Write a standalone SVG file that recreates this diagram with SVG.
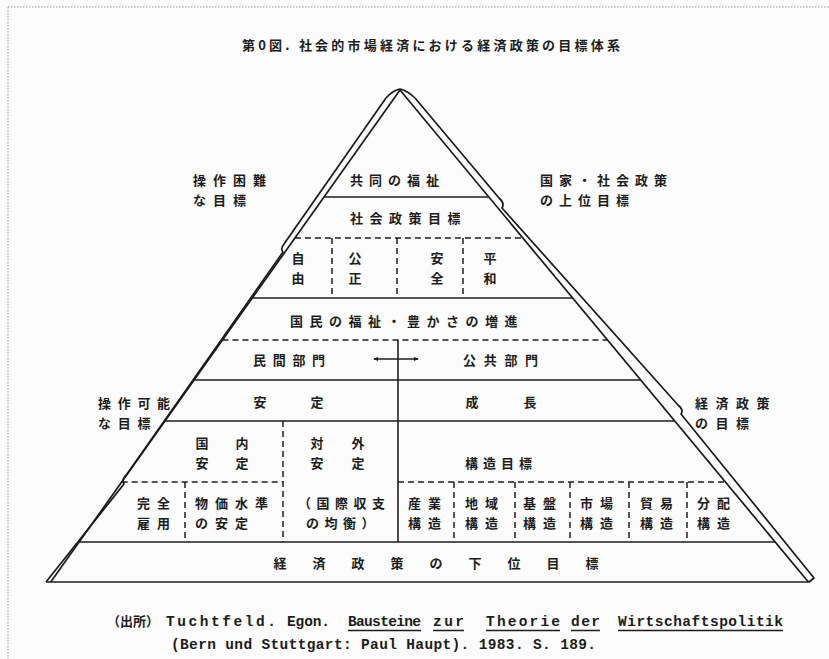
<svg xmlns="http://www.w3.org/2000/svg" width="829" height="659" viewBox="0 0 829 659">
<style>
.j{font-family:"Noto Sans CJK JP","Noto Sans CJK SC",sans-serif;font-weight:bold;font-size:13px;fill:#1c1c1c}
.c{text-anchor:middle}
.s{stroke:#1e1e1e;stroke-width:1.6;fill:none}
.d{stroke:#1e1e1e;stroke-width:1.5;fill:none;stroke-dasharray:6 4}
.e{stroke:#1a1a1a;stroke-width:1.7;fill:none;stroke-linejoin:round}
.m{font-family:"Liberation Mono",monospace;font-size:14.5px;font-weight:bold;fill:#1c1c1c}
</style>
<defs>
<marker id="ah" viewBox="0 0 6 6" refX="5" refY="3" markerWidth="5" markerHeight="5" orient="auto-start-reverse" markerUnits="userSpaceOnUse">
<path d="M0,0.5 L6,3 L0,5.5 Z" fill="#1e1e1e"/>
</marker>
</defs>
<rect x="0" y="0" width="829" height="659" fill="#fcfcfc"/>
<path d="M8,7 H829 M8,7 V659" stroke="#9a9a9a" stroke-width="1" stroke-dasharray="1.5 1.5" fill="none"/>

<text class="j" x="242" y="50" font-size="15.5" textLength="378" lengthAdjust="spacing">第0図. 社会的市場経済における経済政策の目標体系</text>

<g id="pyramid-outline">
<path class="e" d="M386,98 Q392,91 400,89 Q408,91 415,98"/>
<path class="e" d="M386,98 L284,244 Q280,249 283,252 L217,346 L127,474 Q121,480 124,484 L46,582"/>
<path class="e" d="M400,90 L50.7,582"/>
<path class="e" d="M400,90 L808.4,582"/>
<path class="e" d="M415,98 L499,198 Q505,203 502,208 L678,405 Q684,410 681,414 L814,578 L808.4,582.5"/>
</g>

<g id="connectors">
<line class="s" x1="324" y1="197" x2="488.8" y2="197"/>
<line class="d" x1="294.9" y1="238" x2="522.8" y2="238"/>
<line class="d" x1="332" y1="238" x2="332" y2="298"/>
<line class="d" x1="397" y1="238" x2="397" y2="298"/>
<line class="d" x1="463" y1="238" x2="463" y2="298"/>
<line class="s" x1="252.3" y1="298" x2="572.6" y2="298"/>
<line class="d" x1="222.5" y1="340" x2="607.5" y2="340"/>
<line class="s" x1="398" y1="340" x2="398" y2="542"/>
<line class="s" x1="374" y1="359" x2="418" y2="359" stroke-width="1.3" marker-start="url(#ah)" marker-end="url(#ah)"/>
<line class="s" x1="194.1" y1="380" x2="640.7" y2="380"/>
<line class="s" x1="165" y1="421" x2="674.7" y2="421"/>
<line class="d" x1="283" y1="421" x2="283" y2="542"/>
<line class="d" x1="121.7" y1="482" x2="283" y2="482"/>
<line class="d" x1="398" y1="482" x2="725.4" y2="482"/>
<line class="d" x1="185" y1="482" x2="185" y2="542"/>
<line class="d" x1="454" y1="482" x2="454" y2="542"/>
<line class="d" x1="515" y1="482" x2="515" y2="542"/>
<line class="d" x1="570" y1="482" x2="570" y2="542"/>
<line class="d" x1="629" y1="482" x2="629" y2="542"/>
<line class="d" x1="687" y1="482" x2="687" y2="542"/>
<line class="s" x1="79.1" y1="542" x2="775.2" y2="542"/>
<line class="s" x1="46" y1="582" x2="808.4" y2="582"/>
</g>

<g id="label-hard">
<text class="j" x="193" y="185" letter-spacing="7">操作困難</text>
<text class="j" x="193" y="205" letter-spacing="7">な目標</text>
</g>
<g id="label-upper">
<text class="j" x="540" y="185" letter-spacing="6">国家・社会政策</text>
<text class="j" x="540" y="205" letter-spacing="6">の上位目標</text>
</g>
<g id="label-possible">
<text class="j" x="98" y="408" letter-spacing="6.7">操作可能</text>
<text class="j" x="98" y="428" letter-spacing="6.7">な目標</text>
</g>
<g id="label-econ">
<text class="j" x="695" y="408" letter-spacing="7.5">経済政策</text>
<text class="j" x="695" y="428" letter-spacing="7.5">の目標</text>
</g>

<g id="n-common"><text class="j" x="350" y="185" letter-spacing="6">共同の福祉</text></g>
<g id="n-social"><text class="j" x="350" y="223" letter-spacing="6.5">社会政策目標</text></g>
<g id="n-freedom"><text class="j c" x="298" y="263">自</text><text class="j c" x="298" y="283">由</text></g>
<g id="n-justice"><text class="j c" x="355" y="263">公</text><text class="j c" x="355" y="283">正</text></g>
<g id="n-security"><text class="j c" x="437" y="263">安</text><text class="j c" x="437" y="283">全</text></g>
<g id="n-peace"><text class="j c" x="490" y="263">平</text><text class="j c" x="490" y="283">和</text></g>
<g id="n-welfare"><text class="j" x="290" y="326" letter-spacing="6.5">国民の福祉・豊かさの増進</text></g>
<g id="n-private"><text class="j" x="253" y="365" letter-spacing="6.7">民間部門</text></g>
<g id="n-public"><text class="j" x="463" y="365" letter-spacing="7.7">公共部門</text></g>
<g id="n-stability"><text class="j c" x="260" y="407">安</text><text class="j c" x="317" y="407">定</text></g>
<g id="n-growth"><text class="j c" x="472" y="407">成</text><text class="j c" x="530" y="407">長</text></g>
<g id="n-internal"><text class="j c" x="202" y="448">国</text><text class="j c" x="242" y="448">内</text><text class="j c" x="202" y="468">安</text><text class="j c" x="242" y="468">定</text></g>
<g id="n-external"><text class="j c" x="317" y="448">対</text><text class="j c" x="358" y="448">外</text><text class="j c" x="317" y="468">安</text><text class="j c" x="358" y="468">定</text></g>
<g id="n-structure"><text class="j" x="465" y="468" letter-spacing="5">構造目標</text></g>
<g id="n-employment"><text class="j" x="137" y="508" letter-spacing="7">完全</text><text class="j" x="137" y="528" letter-spacing="7">雇用</text></g>
<g id="n-price"><text class="j" x="195" y="508" letter-spacing="7">物価水準</text><text class="j" x="195" y="528" letter-spacing="7">の安定</text></g>
<g id="n-balance"><text class="j" x="298" y="508" letter-spacing="5.5">（国際収支</text><text class="j" x="306" y="528" letter-spacing="5.5">の均衡）</text></g>
<g id="n-industry"><text class="j" x="408" y="508" letter-spacing="7">産業</text><text class="j" x="408" y="528" letter-spacing="7">構造</text></g>
<g id="n-region"><text class="j" x="465" y="508" letter-spacing="7">地域</text><text class="j" x="465" y="528" letter-spacing="7">構造</text></g>
<g id="n-infra"><text class="j" x="523" y="508" letter-spacing="7">基盤</text><text class="j" x="523" y="528" letter-spacing="7">構造</text></g>
<g id="n-market"><text class="j" x="580" y="508" letter-spacing="7">市場</text><text class="j" x="580" y="528" letter-spacing="7">構造</text></g>
<g id="n-trade"><text class="j" x="640" y="508" letter-spacing="7">貿易</text><text class="j" x="640" y="528" letter-spacing="7">構造</text></g>
<g id="n-distribution"><text class="j" x="697" y="508" letter-spacing="7">分配</text><text class="j" x="697" y="528" letter-spacing="7">構造</text></g>
<g id="n-lower">
<text class="j c" x="280" y="568">経</text><text class="j c" x="319" y="568">済</text><text class="j c" x="358" y="568">政</text><text class="j c" x="397" y="568">策</text><text class="j c" x="436" y="568">の</text><text class="j c" x="475" y="568">下</text><text class="j c" x="514" y="568">位</text><text class="j c" x="553" y="568">目</text><text class="j c" x="592" y="568">標</text>
</g>

<g id="caption">
<text class="j" x="107" y="626" font-size="12.5">（出所）</text>
<text class="m" x="166" y="626" textLength="110" lengthAdjust="spacing">Tuchtfeld.</text>
<text class="m" x="287" y="626" textLength="43" lengthAdjust="spacing">Egon.</text>
<text class="m" x="348" y="626" textLength="73" lengthAdjust="spacing">Bausteine</text>
<text class="m" x="433" y="626" textLength="31" lengthAdjust="spacing">zur</text>
<text class="m" x="486" y="626" textLength="74" lengthAdjust="spacing">Theorie</text>
<text class="m" x="571" y="626" textLength="29" lengthAdjust="spacing">der</text>
<text class="m" x="618" y="626" textLength="165" lengthAdjust="spacing">Wirtschaftspolitik</text>
<path d="M348,630.5 H421 M433,630.5 H464 M486,630.5 H560 M571,630.5 H600 M618,630.5 H783" stroke="#1c1c1c" stroke-width="1.3" fill="none"/>
<text class="m" x="171" y="649" textLength="425" lengthAdjust="spacing">(Bern und Stuttgart: Paul Haupt). 1983. S. 189.</text>
</g>
</svg>
